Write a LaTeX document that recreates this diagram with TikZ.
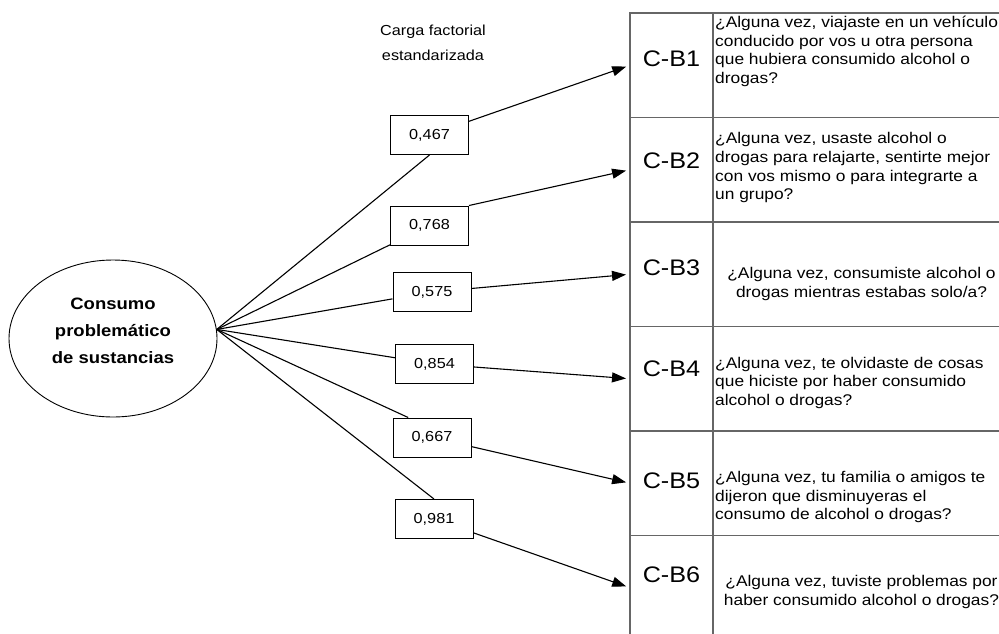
\documentclass[tikz,border=0pt]{standalone}
\usepackage{fontspec}
\setmainfont{Liberation Sans}[FakeStretch=1.12]
\usepackage{tikz}
\usetikzlibrary{shapes.geometric, arrows.meta}
\usetikzlibrary{positioning}

\begin{document}
\begin{tikzpicture}[x=1pt,y=-1pt]

   %Styles of boxes and arrows
   \tikzstyle{factor} = [ellipse, minimum width=208pt, minimum height=157pt, draw=black, line width=0.9pt]
   \tikzstyle{factortext} = [align=center, font=\fontsize{16.5}{27}\selectfont\bfseries]
   \tikzstyle{loading} = [rectangle, minimum width=78pt, minimum height=39pt, draw=black, line width=1pt, font=\fontsize{14.5}{17}\selectfont]
   \tikzstyle{codecell} = [rectangle, minimum width=83pt, minimum height=104.5pt, draw=black!60, line width=1.3pt, inner sep=0pt, outer sep=0pt]
   \tikzstyle{qcell} = [rectangle, minimum width=297pt, minimum height=104.5pt, draw=black!60, line width=1.3pt, inner sep=0pt, outer sep=0pt]
   \tikzstyle{code} = [font=\fontsize{22.5}{25}\selectfont]
   \tikzstyle{question} = [align=left, inner sep=0pt, font=\fontsize{15.5}{18.7}\selectfont]
   \tikzstyle{questionc} = [align=center, inner sep=0pt, font=\fontsize{15.5}{18.7}\selectfont]
   \tikzstyle{header} = [align=center, font=\fontsize{14.5}{25}\selectfont]
   \tikzstyle{line} = [line width=1.1pt]
   \tikzstyle{arrow} = [line width=1.1pt, -{Triangle[length=14pt,width=10pt]}, shorten >=4pt]

   %Page size (picture is cut on the right and at the bottom)
   \useasboundingbox (0,0) rectangle (999,633);
   \clip (0,0) rectangle (999,633);

   %Table of items
   \node[codecell] (cb1) at (671.5,65.25) {};
   \node[codecell, below=0pt of cb1] (cb2) {};
   \node[codecell, below=0pt of cb2] (cb3) {};
   \node[codecell, below=0pt of cb3] (cb4) {};
   \node[codecell, below=0pt of cb4] (cb5) {};
   \node[codecell, below=0pt of cb5] (cb6) {};
   \node[qcell, right=0pt of cb1] (q1) {};
   \node[qcell, right=0pt of cb2] (q2) {};
   \node[qcell, right=0pt of cb3] (q3) {};
   \node[qcell, right=0pt of cb4] (q4) {};
   \node[qcell, right=0pt of cb5] (q5) {};
   \node[qcell, right=0pt of cb6] (q6) {};

   \node[code] (c1) at ([yshift=7pt]cb1.center) {C-B1};
   \node[code] (c2) at ([yshift=9pt]cb2.center) {C-B2};
   \node[code] (c3) at ([yshift=7pt]cb3.center) {C-B3};
   \node[code] (c4) at ([yshift=10pt]cb4.center) {C-B4};
   \node[code] (c5) at ([yshift=3pt]cb5.center) {C-B5};
   \node[code] (c6) at ([yshift=13pt]cb6.center) {C-B6};

   \node[question, anchor=west] (t1) at ([xshift=2pt,yshift=14pt]q1.west) {¿Alguna vez, viajaste en un vehículo\\conducido por vos u otra persona\\que hubiera consumido alcohol o\\drogas?};
   \node[question, anchor=west] (t2) at ([xshift=2pt,yshift=2pt]q2.west) {¿Alguna vez, usaste alcohol o\\drogas para relajarte, sentirte mejor\\con vos mismo o para integrarte a\\un grupo?};
   \node[questionc] (t3) at ([yshift=-10pt]q3.center) {¿Alguna vez, consumiste alcohol o\\drogas mientras estabas solo/a?};
   \node[question, anchor=west] (t4) at ([xshift=2pt,yshift=-4pt]q4.west) {¿Alguna vez, te olvidaste de cosas\\que hiciste por haber consumido\\alcohol o drogas?};
   \node[question, anchor=west] (t5) at ([xshift=2pt,yshift=-14pt]q5.west) {¿Alguna vez, tu familia o amigos te\\dijeron que disminuyeras el\\consumo de alcohol o drogas?};
   \node[questionc] (t6) at ([yshift=-4pt]q6.center) {¿Alguna vez, tuviste problemas por\\haber consumido alcohol o drogas?};

   %Factor and loadings
   \node[factor] (fac) at (113,338.5) {};
   \node[factortext] (factxt) at ([yshift=8pt]fac.center) {Consumo\\problemático\\de sustancias};
   \coordinate (hub) at (fac.5);

   \node[header] (hdr) at (433,43) {Carga factorial\\estandarizada};

   \node[loading] (l1) at (429.5,135) {0,467};
   \node[loading] (l2) at (429.5,225.5) {0,768};
   \node[loading] (l3) at (432,292) {0,575};
   \node[loading] (l4) at (434.5,364) {0,854};
   \node[loading] (l5) at (432,437.5) {0,667};
   \node[loading] (l6) at (434,519) {0,981};

   %Lines from factor to loadings
   \draw[line] (hub) -- (l1.south);
   \draw[line] (hub) -- (l2);
   \draw[line] (hub) -- (l3);
   \draw[line] (hub) -- (l4);
   \draw[line] (hub) -- (l5.140);
   \draw[line] (hub) -- (l6.north);

   %Arrows to items
   \draw[arrow] (l1) -- (cb1.west);
   \draw[arrow] (l2.north east) -- (cb2.west);
   \draw[arrow] (l3) -- (cb3.west);
   \draw[arrow] (l4) -- (cb4.west);
   \draw[arrow] (l5) -- (cb5.west);
   \draw[arrow] (l6) -- (cb6.west);

\end{tikzpicture}
\end{document}
